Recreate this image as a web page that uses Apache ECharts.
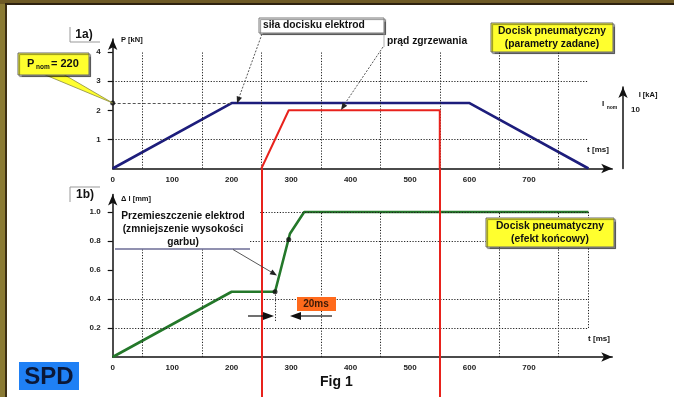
<!DOCTYPE html>
<html>
<head>
<meta charset="utf-8">
<script src="https://cdn.jsdelivr.net/npm/echarts@6/dist/echarts.min.js"></script>
<style>
html,body{margin:0;padding:0;background:#fff;}
#chart{width:674px;height:397px;}
</style>
</head>
<body>
<div id="chart"></div>
<script>
// ---------- data ----------
const timeTicks = [0, 100, 200, 300, 400, 500, 600, 700];
const forceTicks = [1, 2, 3, 4];
const dispTicks = [0.2, 0.4, 0.6, 0.8, 1.0];
const currentTicks = [10];

const forceT = [0, 200, 600, 800];
const forceP = [0, 2.25, 2.25, 0];
const pNom = 2.25;

const currentT = [250, 296, 550, 550];
const currentI = [0, 10, 10, 0];

const dispT = [0, 200, 273, 298, 322, 800];
const dispDL = [0, 0.45, 0.45, 0.85, 1.0, 1.0];
const dotT = [273, 296];
const dotDL = [0.45, 0.81];

const gridTimesA = [50, 150, 250, 350, 450, 550, 650, 750];
const gridForceA = [1, 3];
const gridTimesB_low = [50, 150];
const gridTimesB_full = [350, 450, 550, 650, 750];
const gridDispB = [0.2, 0.4];

// ---------- layout ----------
const X0 = 112.7, PXMS = 0.5947, TMAX = 840;
const W = TMAX * PXMS;
const FONT = '"Liberation Sans", Arial, sans-serif';
const dotLine = {color: '#222', type: [1.2, 1.6], width: 1};

const chart = echarts.init(document.getElementById('chart'), null, {renderer: 'canvas'});

function zip(a, b) { return a.map((v, i) => [v, b[i]]); }
function seg(x1, y1, x2, y2) { return [{coord: [x1, y1]}, {coord: [x2, y2]}]; }

const arrowLine = {show: true, onZero: false, symbol: ['none', 'arrow'], symbolSize: [7, 11],
  lineStyle: {color: '#111', width: 1.5}};
const tickLabel = {fontFamily: FONT, fontWeight: 'bold', fontSize: 8, color: '#222'};

const gridA = {left: X0, width: W, top: 168.5 - 4.45 * 29.1, height: 4.45 * 29.1, outerBoundsMode: 'none'};
const gridB = {left: X0, width: W, top: 357 - 1.12 * 145, height: 1.12 * 145, outerBoundsMode: 'none'};
const gridI = {left: X0, width: W, top: 87, height: 81.5, outerBoundsMode: 'none'};
const gridE = {left: X0, width: W, top: 168.5, height: 228.5, outerBoundsMode: 'none'};

function xAx(idx, show) {
  return {type: 'value', gridIndex: idx, min: 0, max: TMAX, show: show,
    axisLine: arrowLine, axisTick: {show: false}, splitLine: {show: false},
    axisLabel: Object.assign({customValues: timeTicks, margin: 7}, tickLabel)};
}

// gridline markLines
const gridLinesA = [];
gridTimesA.forEach(t => gridLinesA.push(seg(t, 0, t, 4)));
gridForceA.forEach(p => gridLinesA.push(seg(0, p, 800, p)));
const gridLinesB = [];
gridTimesB_low.forEach(t => gridLinesB.push(seg(t, 0, t, 0.745)));
gridTimesB_full.forEach(t => gridLinesB.push(seg(t, 0, t, 1.0)));
gridLinesB.push(seg(800, 0.2, 800, 1.0));
gridDispB.forEach(d => gridLinesB.push(seg(0, d, 800, d)));
gridLinesB.push(seg(231, 0.8, 800, 0.8));
gridLinesB.push(seg(248, 1.0, 800, 1.0));
gridLinesB.push(seg(dotT[0], dotDL[0], dotT[0], 0.24));

function text(x, y, s, size, opts) {
  return Object.assign({type: 'text', x: x, y: y, z: 100, silent: true,
    style: Object.assign({text: s, font: 'bold ' + size + 'px ' + FONT, fill: '#111',
      align: 'center', verticalAlign: 'middle', textAlign: 'center', textVerticalAlign: 'middle'}, opts || {})});
}
function rect(x, y, w, h, fill, stroke, shadow) {
  const st = {fill: fill, stroke: stroke || null, lineWidth: 1};
  if (shadow) { st.shadowColor = 'rgba(0,0,0,0.45)'; st.shadowOffsetX = 1.5; st.shadowOffsetY = 1.5; st.shadowBlur = 1; }
  return {type: 'rect', z: 90, silent: true, shape: {x: x, y: y, width: w, height: h}, style: st};
}
function line(x1, y1, x2, y2, color, width, dash) {
  return {type: 'line', z: 95, silent: true, shape: {x1: x1, y1: y1, x2: x2, y2: y2},
    style: {stroke: color, lineWidth: width, lineDash: dash || null}};
}
function head(tx, ty, fx, fy, len, half, color) {
  const dx = tx - fx, dy = ty - fy, L = Math.sqrt(dx * dx + dy * dy);
  const ux = dx / L, uy = dy / L, bx = tx - ux * len, by = ty - uy * len;
  return {type: 'polygon', z: 96, silent: true,
    shape: {points: [[tx, ty], [bx - uy * half, by + ux * half], [bx + uy * half, by - ux * half]]},
    style: {fill: color}};
}

const graphics = [
  // frame
  {type: 'rect', z: 1, silent: true, shape: {x: 0, y: 0, width: 6, height: 397}, style: {fill: '#8a7a33'}},
  {type: 'rect', z: 1, silent: true, shape: {x: 5, y: 0, width: 2, height: 397}, style: {fill: '#3c2e12'}},
  {type: 'rect', z: 1, silent: true, shape: {x: 0, y: 0, width: 674, height: 4}, style: {fill: '#6e5a26'}},
  {type: 'rect', z: 1, silent: true, shape: {x: 5, y: 3, width: 669, height: 2}, style: {fill: '#2e2210'}},
  // 1a) label
  line(70, 27, 70, 42, '#999', 1), line(70, 42, 100, 42, '#999', 1),
  text(84, 35, '1a)', 12),
  // 1b) label
  line(70, 187, 100, 187, '#999', 1), line(70, 187, 70, 202, '#999', 1),
  text(85, 195, '1b)', 12),
  // axis titles
  text(121, 40, 'P [kN]', 7.5, {align: 'left', textAlign: 'left'}),
  text(121, 199, '\u0394 l [mm]', 7.5, {align: 'left', textAlign: 'left'}),
  text(598, 150, 't [ms]', 8),
  text(599, 339, 't [ms]', 8),
  text(648, 95, 'I [kA]', 7.5),
  text(603, 104, 'I', 8),
  text(612, 108, 'nom', 5),
  // P nom callout
  {type: 'polygon', z: 89, silent: true, shape: {points: [[43, 74], [63, 74], [112.7, 103]]},
    style: {fill: '#ffff2e', stroke: '#8a8a40', lineWidth: 0.8}},
  rect(18, 53, 71, 22, '#ffff2e', '#6a6a6a', true),
  text(27, 64, 'P', 11, {align: 'left', textAlign: 'left'}),
  text(36, 67, 'nom', 6.5, {align: 'left', textAlign: 'left'}),
  text(51, 64, '= 220', 11, {align: 'left', textAlign: 'left'}),
  // siła docisku elektrod
  rect(259, 18, 125, 15, '#ffffff', '#7a7a7a', true),
  text(263, 25.5, 'siła docisku elektrod', 10.3, {align: 'left', textAlign: 'left'}),
  line(262, 34, 238.5, 99, '#444', 0.9, [2, 1.5]),
  head(237, 103.5, 262, 34, 7, 2.8, '#222'),
  // prąd zgrzewania
  text(387, 41, 'prąd zgrzewania', 10.3, {align: 'left', textAlign: 'left'}),
  line(384, 33, 384, 47, '#999', 0.8),
  line(383, 47, 344, 105, '#444', 0.9, [2, 1.5]),
  head(341, 110, 383, 47, 7, 2.8, '#222'),
  // Docisk pneumatyczny (parametry zadane)
  rect(491, 23, 122, 29, '#ffff2e', '#6a6a6a', true),
  text(552, 31.5, 'Docisk pneumatyczny', 10.3),
  text(552, 44.5, '(parametry zadane)', 10.3),
  // Przemieszczenie elektrod
  text(183, 216, 'Przemieszczenie elektrod', 10.2),
  text(183, 229, '(zmniejszenie wysokości', 10.2),
  text(183, 242, 'garbu)', 10.2),
  line(115, 249, 250, 249, '#6c6c96', 1.6),
  line(233, 249.5, 272, 272.5, '#444', 0.9),
  head(277, 275.5, 233, 249.5, 7, 2.8, '#222'),
  // Docisk pneumatyczny (efekt końcowy)
  rect(486, 218, 128, 29, '#ffff2e', '#6a6a6a', true),
  text(550, 226, 'Docisk pneumatyczny', 10.3),
  text(550, 239, '(efekt końcowy)', 10.3),
  // 20ms
  rect(297, 297, 39, 14, '#ff6a1c', null, false),
  text(316, 304, '20ms', 10, {fill: '#3a1a08'}),
  line(248, 316, 264, 316, '#111', 1.2),
  head(274, 316, 248, 316, 11, 4, '#111'),
  line(332, 316, 300, 316, '#111', 1.2),
  head(290, 316, 332, 316, 11, 4, '#111'),
  // SPD
  rect(19, 362, 60, 28, '#1f80f5', null, false),
  text(49, 377, 'SPD', 24, {fill: '#0b1838'}),
  // Fig 1
  text(320, 382, 'Fig 1', 14, {align: 'left', textAlign: 'left'})
];

const option = {
  animation: false,
  backgroundColor: '#ffffff',
  grid: [gridA, gridB, gridI, gridE],
  xAxis: [xAx(0, true), xAx(1, true), xAx(2, false), xAx(3, false)],
  yAxis: [
    {type: 'value', gridIndex: 0, min: 0, max: 4.45, axisLine: arrowLine,
      axisTick: {show: true, customValues: forceTicks, length: 5, lineStyle: {color: '#111', width: 1.2}},
      axisLabel: Object.assign({customValues: forceTicks, margin: 12}, tickLabel),
      splitLine: {show: false}},
    {type: 'value', gridIndex: 1, min: 0, max: 1.12, axisLine: arrowLine,
      axisTick: {show: true, customValues: dispTicks, length: 5, lineStyle: {color: '#111', width: 1.2}},
      axisLabel: Object.assign({customValues: dispTicks, margin: 12, formatter: v => v.toFixed(1)}, tickLabel),
      splitLine: {show: false}},
    {type: 'value', gridIndex: 2, min: 0, max: 14, position: 'right', offset: 623 - (X0 + W),
      axisLine: arrowLine, axisTick: {show: false},
      axisLabel: Object.assign({customValues: currentTicks, margin: 8}, tickLabel),
      splitLine: {show: false}},
    {type: 'value', gridIndex: 3, min: 0, max: 1, show: false}
  ],
  graphic: {elements: graphics},
  series: [
    {type: 'line', xAxisIndex: 0, yAxisIndex: 0, data: [], z: 1, silent: true,
      markLine: {silent: true, symbol: 'none', label: {show: false}, lineStyle: dotLine, data: gridLinesA}},
    {type: 'line', xAxisIndex: 1, yAxisIndex: 1, data: [], z: 1, silent: true,
      markLine: {silent: true, symbol: 'none', label: {show: false}, lineStyle: dotLine, data: gridLinesB}},
    {type: 'line', xAxisIndex: 0, yAxisIndex: 0, data: [], z: 1, silent: true,
      markLine: {silent: true, symbol: 'none', label: {show: false},
        lineStyle: {color: '#555', type: [3, 2], width: 1},
        data: [seg(0, pNom, forceT[1], pNom)]}},
    {name: 'siła docisku elektrod', type: 'line', xAxisIndex: 0, yAxisIndex: 0, z: 4,
      data: zip(forceT, forceP), showSymbol: false, lineStyle: {color: '#1d1d7c', width: 2.6}},
    {name: 'prąd zgrzewania', type: 'line', xAxisIndex: 2, yAxisIndex: 2, z: 5, clip: false,
      data: zip(currentT, currentI), showSymbol: false, lineStyle: {color: '#e8221c', width: 2}},
    {type: 'line', xAxisIndex: 3, yAxisIndex: 3, data: [], z: 5, silent: true,
      markLine: {silent: true, symbol: 'none', label: {show: false},
        lineStyle: {color: '#e8221c', type: 'solid', width: 2},
        data: [{xAxis: currentT[0]}, {xAxis: currentT[currentT.length - 1]}]}},
    {name: 'Przemieszczenie elektrod', type: 'line', xAxisIndex: 1, yAxisIndex: 1, z: 4,
      data: zip(dispT, dispDL), showSymbol: false, lineStyle: {color: '#24782a', width: 2.6}},
    {type: 'scatter', xAxisIndex: 1, yAxisIndex: 1, z: 6, data: zip(dotT, dotDL),
      symbolSize: 5, itemStyle: {color: '#111'}},
    {type: 'scatter', xAxisIndex: 0, yAxisIndex: 0, z: 6, data: [[0, pNom]],
      symbolSize: 5, itemStyle: {color: '#111'}}
  ]
};
chart.setOption(option);
</script>
</body>
</html>
